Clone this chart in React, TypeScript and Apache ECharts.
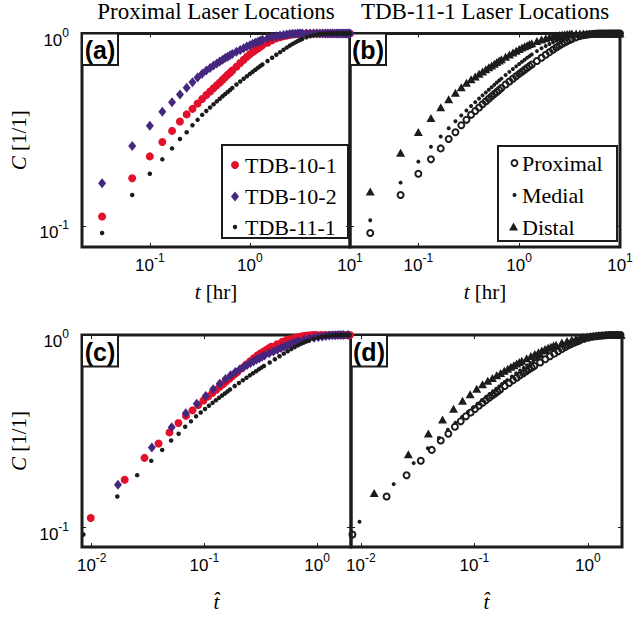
import React, { useEffect, useRef } from 'react';
import * as echarts from 'echarts';

// Sampling times in minutes (one image every 2 min, thinned after 40 min)
const SAMPLE_MIN = [
  2, 4, 6, 8, 10, 12, 14, 16, 18, 20, 22, 24, 26, 28, 30, 32, 34, 36, 38, 40,
  44, 48, 52, 56, 60, 64, 68, 72, 76, 80,
  90, 100, 110, 120, 130, 140, 150, 160, 170, 180, 190, 200,
  220, 240, 260, 280, 300, 320, 340, 360, 380, 400, 420, 440, 460, 480, 500, 520, 540, 560, 580, 600,
];

// Normalised concentration C [1/1] at the sampling times
const C_TDB_10_1 = [
  0.112, 0.177, 0.230, 0.273, 0.312, 0.349, 0.380, 0.406, 0.433, 0.457, 0.479, 0.500, 0.520, 0.539, 0.557, 0.575, 0.593, 0.610, 0.626, 0.642,
  0.672, 0.702, 0.730, 0.757, 0.781, 0.802, 0.819, 0.836, 0.853, 0.869,
  0.896, 0.923, 0.945, 0.957, 0.967, 0.977, 0.985, 0.991, 0.995, 0.998, 1, 1,
  1, 1, 1, 1, 1, 1, 1, 1, 1, 1, 1, 1, 1, 1, 1, 1, 1, 1, 1, 1,
];
const C_TDB_10_2 = [
  0.167, 0.260, 0.332, 0.392, 0.440, 0.482, 0.522, 0.558, 0.590, 0.618, 0.643, 0.662, 0.681, 0.699, 0.716, 0.731, 0.745, 0.758, 0.770, 0.782,
  0.803, 0.822, 0.839, 0.855, 0.870, 0.884, 0.896, 0.907, 0.917, 0.927,
  0.946, 0.958, 0.968, 0.975, 0.982, 0.988, 0.993, 0.996, 0.998, 1, 1, 1,
  1, 1, 1, 1, 1, 1, 1, 1, 1, 1, 1, 1, 1, 1, 1, 1, 1, 1, 1, 1,
];
// TDB-11-1 proximal location (same record in both top panels)
const C_TDB_11_1 = [
  0.092, 0.145, 0.187, 0.222, 0.253, 0.283, 0.307, 0.334, 0.356, 0.378, 0.396, 0.413, 0.429, 0.444, 0.458, 0.472, 0.485, 0.497, 0.509, 0.521,
  0.543, 0.563, 0.582, 0.600, 0.617, 0.633, 0.648, 0.663, 0.677, 0.690,
  0.720, 0.748, 0.775, 0.800, 0.823, 0.845, 0.865, 0.883, 0.899, 0.913, 0.926, 0.937,
  0.955, 0.969, 0.979, 0.986, 0.991, 0.995, 0.998, 1, 1, 1, 1, 1, 1, 1, 1, 1, 1, 1, 1, 1,
];
const C_TDB_11_1_MEDIAL = [
  0.107, 0.168, 0.216, 0.258, 0.292, 0.322, 0.350, 0.375, 0.398, 0.420, 0.440, 0.459, 0.477, 0.494, 0.510, 0.526, 0.541, 0.556, 0.570, 0.583,
  0.608, 0.632, 0.654, 0.675, 0.695, 0.714, 0.731, 0.748, 0.763, 0.777,
  0.810, 0.838, 0.862, 0.883, 0.901, 0.917, 0.930, 0.942, 0.952, 0.960, 0.967, 0.973,
  0.982, 0.989, 0.994, 0.997, 0.999, 1, 1, 1, 1, 1, 1, 1, 1, 1, 1, 1, 1, 1, 1, 1,
];
const C_TDB_11_1_DISTAL = [
  0.151, 0.240, 0.308, 0.364, 0.414, 0.455, 0.493, 0.525, 0.555, 0.578, 0.598, 0.617, 0.635, 0.652, 0.668, 0.683, 0.697, 0.711, 0.724, 0.736,
  0.758, 0.778, 0.797, 0.814, 0.830, 0.845, 0.858, 0.870, 0.881, 0.891,
  0.913, 0.931, 0.946, 0.958, 0.968, 0.976, 0.983, 0.988, 0.992, 0.995, 0.997, 0.999,
  1, 1, 1, 1, 1, 1, 1, 1, 1, 1, 1, 1, 1, 1, 1, 1, 1, 1, 1, 1,
];

const PROXIMAL_NAMES = ['TDB-10-1', 'TDB-10-2', 'TDB-11-1'];
const LOCATION_NAMES = ['Proximal', 'Medial', 'Distal'];
// time scale (hours) used to normalise t into t-hat
const TAU_PROXIMAL_HR = [3.4, 1.95, 3.95];
const TAU_LOCATION_HR = [3.95, 3.42, 2.54];

const TITLES = ['Proximal Laser Locations', 'TDB-11-1 Laser Locations'];
const PANEL_TAGS = ['(a)', '(b)', '(c)', '(d)'];

const T_RANGE_HR = [0.021, 10];
const THAT_RANGE = [0.0082, 2.0];
const C_RANGE_TOP = [0.0778, 1];
const C_RANGE_BOTTOM = [0.0792, 1];

const SERIF = '"Liberation Serif", "Times New Roman", serif';
const SANS = '"Liberation Sans", Arial, Helvetica, sans-serif';
const INK = '#1c1c1c';
const RED = '#e2102a';
const PURPLE = '#46277f';

const GRIDS = [
  { left: 82, top: 33.5, width: 268, height: 213.5 },
  { left: 350, top: 33.5, width: 270, height: 213.5 },
  { left: 82, top: 335, width: 269, height: 212 },
  { left: 351, top: 335, width: 271, height: 212 },
];

const tickRich = {
  b: { fontFamily: SANS, fontSize: 17, lineHeight: 22, color: '#000', verticalAlign: 'bottom' },
  s: { fontFamily: SANS, fontSize: 12, lineHeight: 12, color: '#000', verticalAlign: 'top' },
};

const decadeLabel = (v: number) => {
  const e = Math.log10(v);
  const r = Math.round(e);
  return Math.abs(e - r) < 1e-6 ? `{b|10}{s|${r}}` : '';
};

const nameRich = {
  i: { fontFamily: SERIF, fontSize: 21, fontStyle: 'italic', color: '#000' },
  n: { fontFamily: SERIF, fontSize: 21, color: '#000' },
};

const tick = { show: true, inside: true, length: 4, lineStyle: { color: INK, width: 1 } };

function makeX(g: number, range: number[], labels: boolean, name: string, nameGap: number, top: boolean) {
  return {
    type: 'log', logBase: 10, gridIndex: g, min: range[0], max: range[1],
    position: top ? 'top' : 'bottom',
    axisLine: { show: false }, axisTick: tick, splitLine: { show: false }, minorTick: { show: false },
    axisLabel: top ? { show: false } : { show: labels, formatter: decadeLabel, rich: tickRich, margin: 5 },
    name: top ? '' : name, nameLocation: 'middle', nameGap, nameMoveOverlap: false,
    nameTextStyle: { rich: nameRich },
  };
}

function makeY(g: number, range: number[], labels: boolean, right: boolean) {
  return {
    type: 'log', logBase: 10, gridIndex: g, min: range[0], max: range[1],
    position: right ? 'right' : 'left',
    axisLine: { show: false }, axisTick: tick, splitLine: { show: false }, minorTick: { show: false },
    axisLabel: right ? { show: false } : { show: labels, formatter: decadeLabel, rich: tickRich, margin: 13, padding: [8, 0, 0, 0] },
    name: !right && labels ? '{i|C}{n| [1/1]}' : '', nameLocation: 'middle', nameRotate: 90, nameGap: 53,
    nameMoveOverlap: false,
    nameTextStyle: { rich: nameRich },
  };
}

const STYLE_PROXIMAL = [
  { symbol: 'circle', symbolSize: 8, itemStyle: { color: RED, opacity: 1 } },
  { symbol: 'diamond', symbolSize: [8, 10], itemStyle: { color: PURPLE, opacity: 1 } },
  { symbol: 'circle', symbolSize: 4.5, itemStyle: { color: INK, opacity: 1 } },
];
const STYLE_LOCATION = [
  { symbol: 'circle', symbolSize: 6, itemStyle: { color: 'rgba(255,255,255,0)', borderColor: INK, borderWidth: 2, opacity: 1 } },
  { symbol: 'circle', symbolSize: 4, itemStyle: { color: INK, opacity: 1 } },
  { symbol: 'triangle', symbolSize: [9, 8], itemStyle: { color: INK, opacity: 1 } },
];

function scatter(name: string, g: number, C: number[], tau: number, style: any) {
  return {
    type: 'scatter', name, xAxisIndex: 2 * g, yAxisIndex: 2 * g, clip: true,
    data: SAMPLE_MIN.map((m, i) => [m / 60 / tau, C[i]]),
    ...style,
    emphasis: { disabled: true },
  };
}

function tagBox(g: number, text: string) {
  const gr = GRIDS[g];
  return {
    type: 'group', z: 100,
    children: [
      { type: 'rect', shape: { x: gr.left, y: gr.top, width: 36, height: 31.5 }, style: { fill: '#fff', stroke: INK, lineWidth: 2 } },
      { type: 'text', x: gr.left + 18, y: gr.top + 16.5, style: { text, fontFamily: SANS, fontWeight: 'bold', fontSize: 25, fill: '#000', align: 'center', verticalAlign: 'middle', textAlign: 'center', textVerticalAlign: 'middle' } },
    ],
  };
}

function legendText(x: number, y: number, text: string) {
  return { type: 'text', x, y, style: { text, fontFamily: SERIF, fontSize: 22, fill: '#000', align: 'left', verticalAlign: 'middle', textAlign: 'left', textVerticalAlign: 'middle' } };
}

export default function App() {
  const ref = useRef<HTMLDivElement>(null);
  useEffect(() => {
    document.body.style.margin = '0';
    if (!ref.current) return;
    const chart = echarts.init(ref.current, null, { renderer: 'svg' });
    const proxC = [C_TDB_10_1, C_TDB_10_2, C_TDB_11_1];
    const locC = [C_TDB_11_1, C_TDB_11_1_MEDIAL, C_TDB_11_1_DISTAL];
    const series: any[] = [];
    PROXIMAL_NAMES.forEach((n, i) => series.push(scatter(n, 0, proxC[i], 1, STYLE_PROXIMAL[i])));
    LOCATION_NAMES.forEach((n, i) => series.push(scatter(n, 1, locC[i], 1, STYLE_LOCATION[i])));
    PROXIMAL_NAMES.forEach((n, i) => series.push(scatter(n + ' (scaled)', 2, proxC[i], TAU_PROXIMAL_HR[i], STYLE_PROXIMAL[i])));
    LOCATION_NAMES.forEach((n, i) => series.push(scatter(n + ' (scaled)', 3, locC[i], TAU_LOCATION_HR[i], STYLE_LOCATION[i])));

    const tName = '{i|t}{n| [hr]}';
    const hatName = '{i|t\u0302}';

    const option: any = {
      animation: false,
      backgroundColor: '#fff',
      title: [
        { text: TITLES[0], left: 216, top: 0, textAlign: 'center', padding: 0, textStyle: { fontFamily: SERIF, fontSize: 23, fontWeight: 'normal', color: '#000' } },
        { text: TITLES[1], left: 485, top: 0, textAlign: 'center', padding: 0, textStyle: { fontFamily: SERIF, fontSize: 23, fontWeight: 'normal', color: '#000' } },
      ],
      grid: GRIDS.map((g) => ({ ...g, show: true, borderColor: INK, borderWidth: 3, backgroundColor: 'transparent', containLabel: false, outerBoundsMode: 'none' })),
      xAxis: [
        makeX(0, T_RANGE_HR, true, tName, 34, false), makeX(0, T_RANGE_HR, false, '', 0, true),
        makeX(1, T_RANGE_HR, true, tName, 34, false), makeX(1, T_RANGE_HR, false, '', 0, true),
        makeX(2, THAT_RANGE, true, hatName, 44, false), makeX(2, THAT_RANGE, false, '', 0, true),
        makeX(3, THAT_RANGE, true, hatName, 44, false), makeX(3, THAT_RANGE, false, '', 0, true),
      ],
      yAxis: [
        makeY(0, C_RANGE_TOP, true, false), makeY(0, C_RANGE_TOP, false, true),
        makeY(1, C_RANGE_TOP, false, false), makeY(1, C_RANGE_TOP, false, true),
        makeY(2, C_RANGE_BOTTOM, true, false), makeY(2, C_RANGE_BOTTOM, false, true),
        makeY(3, C_RANGE_BOTTOM, false, false), makeY(3, C_RANGE_BOTTOM, false, true),
      ],
      series,
      graphic: [
        ...PANEL_TAGS.map((t, i) => tagBox(i, t)),
        {
          type: 'group', z: 100,
          children: [
            { type: 'rect', shape: { x: 222, y: 145, width: 126, height: 93 }, style: { fill: '#fff', stroke: INK, lineWidth: 2 } },
            { type: 'circle', shape: { cx: 235, cy: 165, r: 4 }, style: { fill: RED } },
            legendText(245, 165, PROXIMAL_NAMES[0]),
            { type: 'polygon', shape: { points: [[235, 191.5], [239, 196.5], [235, 201.5], [231, 196.5]] }, style: { fill: PURPLE } },
            legendText(245, 196.5, PROXIMAL_NAMES[1]),
            { type: 'circle', shape: { cx: 235, cy: 227, r: 2.2 }, style: { fill: INK } },
            legendText(245, 227, PROXIMAL_NAMES[2]),
          ],
        },
        {
          type: 'group', z: 100,
          children: [
            { type: 'rect', shape: { x: 498, y: 146, width: 119, height: 95 }, style: { fill: '#fff', stroke: INK, lineWidth: 2 } },
            { type: 'circle', shape: { cx: 514.5, cy: 163, r: 3 }, style: { fill: '#fff', stroke: INK, lineWidth: 1.8 } },
            legendText(522, 163, LOCATION_NAMES[0]),
            { type: 'circle', shape: { cx: 514.5, cy: 195, r: 2 }, style: { fill: INK } },
            legendText(522, 195, LOCATION_NAMES[1]),
            { type: 'polygon', shape: { points: [[513.5, 222.5], [518, 230.5], [509, 230.5]] }, style: { fill: INK } },
            legendText(522, 227, LOCATION_NAMES[2]),
          ],
        },
      ],
    };
    chart.setOption(option);
    return () => chart.dispose();
  }, []);
  return <div ref={ref} style={{ width: 634, height: 618 }} />;
}
